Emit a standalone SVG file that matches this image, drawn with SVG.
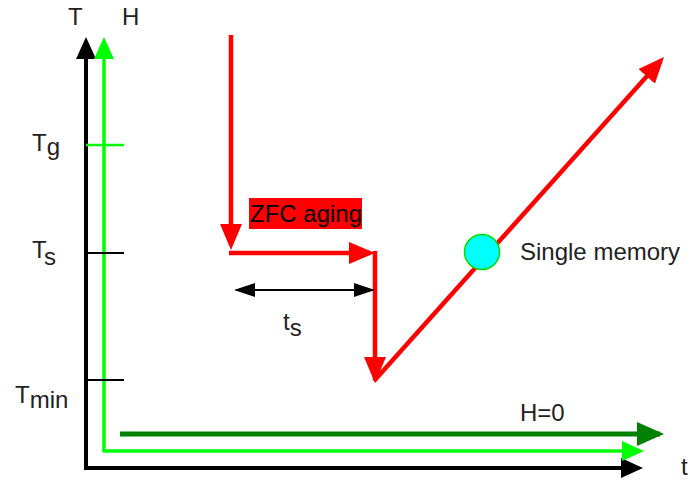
<svg xmlns="http://www.w3.org/2000/svg" width="690" height="482" viewBox="0 0 690 482">
<style>
text{font-family:"Liberation Sans",Arial,sans-serif;font-size:24px;fill:#222}
.red{stroke:#ff0000;stroke-width:4.5;fill:none}
.blk{stroke:#000;fill:none}
.lg{stroke:#00ff00;fill:none}
.dg{stroke:#008000;fill:none}
</style>
<defs>
<marker id="aRed" markerUnits="userSpaceOnUse" markerWidth="30" markerHeight="24" refX="21" refY="11" orient="auto"><path d="M0,0 L26,11 L0,22 z" fill="#ff0000"/></marker>
<marker id="aBlk" markerUnits="userSpaceOnUse" markerWidth="24" markerHeight="22" refX="18" refY="10" orient="auto"><path d="M0,0 L22,10 L0,20 z" fill="#000"/></marker>
<marker id="aLg" markerUnits="userSpaceOnUse" markerWidth="24" markerHeight="22" refX="18" refY="10" orient="auto"><path d="M0,0 L22,10 L0,20 z" fill="#00ff00"/></marker>
<marker id="aDg" markerUnits="userSpaceOnUse" markerWidth="30" markerHeight="26" refX="23" refY="12" orient="auto"><path d="M0,0 L27,12 L0,24 z" fill="#008000"/></marker>
<marker id="aDim" markerUnits="userSpaceOnUse" markerWidth="22" markerHeight="16" refX="19" refY="7" orient="auto-start-reverse"><path d="M0,0 L21,7 L0,14 z" fill="#000"/></marker>
</defs>
<g id="axes">
<path class="blk" stroke-width="4" d="M86,468 V41" marker-end="url(#aBlk)"/>
<path class="lg" stroke-width="3.5" d="M104,451 V41" marker-end="url(#aLg)"/>
<path class="blk" stroke-width="4" d="M84,468 H639" marker-end="url(#aBlk)"/>
<path class="lg" stroke-width="3.5" d="M102.5,451 H640" marker-end="url(#aLg)"/>
<path class="dg" stroke-width="5" d="M120,434 H660" marker-end="url(#aDg)"/>
<line class="lg" stroke-width="2.5" x1="86" y1="145" x2="124" y2="145"/>
<line class="blk" stroke-width="2" x1="86" y1="253" x2="124" y2="253"/>
<line class="blk" stroke-width="2" x1="86" y1="380" x2="124" y2="380"/>
</g>
<g id="labels">
<text x="68" y="25">T</text>
<text x="122" y="25">H</text>
<text x="32" y="151">T<tspan dy="4">g</tspan></text>
<text x="32" y="258">T<tspan dy="7">s</tspan></text>
<text x="15" y="403">T<tspan dy="5">min</tspan></text>
<text x="520" y="421">H=0</text>
<text x="681" y="475">t</text>
<text x="283" y="330">t<tspan dy="6">s</tspan></text>
</g>
<g id="connectors">
<path class="red" d="M231,35 V245" marker-end="url(#aRed)"/>
<path class="red" d="M229,253 H370" marker-end="url(#aRed)"/>
<path class="red" d="M375,251 V378" marker-end="url(#aRed)"/>
<path class="red" d="M374,381 L660.7,60.7" marker-end="url(#aRed)"/>
<path class="blk" stroke-width="2" d="M236,290 H373" marker-start="url(#aDim)" marker-end="url(#aDim)"/>
</g>
<g id="zfc">
<rect x="249" y="198" width="113" height="31" fill="#ff0000"/>
<text x="250" y="222" style="fill:#000">ZFC aging</text>
</g>
<g id="memory">
<circle cx="482" cy="252" r="17.5" fill="#00ffff" stroke="#00e000" stroke-width="1.5"/>
<text x="520" y="260">Single memory</text>
</g>
</svg>
